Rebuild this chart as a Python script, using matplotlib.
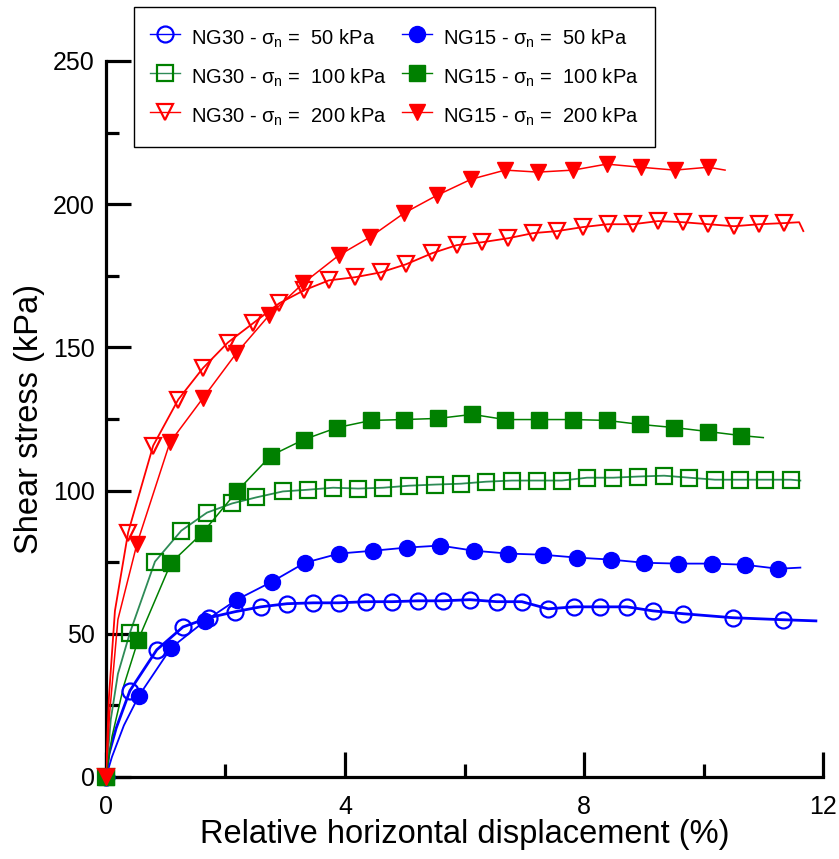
import numpy as np
import matplotlib
matplotlib.use("Agg")
import matplotlib.pyplot as plt
from matplotlib import font_manager

plt.rcParams["font.family"] = ["Liberation Sans", "DejaVu Sans"]

# fuente estrecha para la leyenda si existe
nombres = {f.name for f in font_manager.fontManager.ttflist}
if "Liberation Sans Narrow" in nombres:
    LEG_FONT = "Liberation Sans Narrow"
    LEG_SIZE = 17
else:
    LEG_FONT = "Liberation Sans"
    LEG_SIZE = 14.5
plt.rcParams["mathtext.fontset"] = "custom"
plt.rcParams["mathtext.rm"] = LEG_FONT
plt.rcParams["mathtext.it"] = LEG_FONT

# ---- datos (desplazamiento %, tension kPa) ----
# NG30 - 50 kPa (circulo abierto)
ng30_50_x = [0, 0.40, 0.85, 1.29, 1.72, 2.16, 2.59, 3.03, 3.47, 3.90, 4.35, 4.79, 5.22,
             5.64, 6.09, 6.54, 6.96, 7.40, 7.83, 8.27, 8.72, 9.15, 9.66, 10.49, 11.33]
ng30_50_y = [0, 30.1, 44.4, 52.4, 55.6, 57.7, 59.4, 60.5, 60.8, 60.8, 61.2, 61.2, 61.5,
             61.5, 61.9, 61.2, 61.2, 58.7, 59.4, 59.4, 59.4, 58.0, 57.0, 55.6, 54.9]
ng30_50_extra = ([0.05, 0.17, 11.88], [8, 17, 54.5])

# NG15 - 50 kPa (circulo lleno)
ng15_50_x = [0, 0.55, 1.09, 1.66, 2.19, 2.78, 3.33, 3.90, 4.47, 5.04, 5.59, 6.16, 6.73,
             7.31, 7.88, 8.45, 9.00, 9.57, 10.14, 10.69, 11.25]
ng15_50_y = [0, 28.3, 45.1, 54.5, 61.9, 68.2, 74.8, 78.0, 79.0, 80.1, 80.8, 79.0, 78.0,
             77.6, 76.6, 75.9, 74.8, 74.5, 74.5, 74.1, 72.7]
ng15_50_extra = ([0.1, 0.3, 11.62], [7, 18, 73.1])

# NG30 - 100 kPa (cuadrado abierto)
ng30_100_x = [0, 0.40, 0.82, 1.26, 1.69, 2.11, 2.51, 2.96, 3.38, 3.80, 4.22, 4.64, 5.07,
              5.51, 5.94, 6.36, 6.79, 7.21, 7.63, 8.05, 8.49, 8.90, 9.34, 9.76, 10.19,
              10.61, 11.03, 11.46]
ng30_100_y = [0, 50.3, 75.2, 86.0, 92.3, 95.5, 97.6, 99.7, 100.3, 101.0, 100.7, 101.0, 101.7,
              102.1, 102.4, 103.1, 103.5, 103.5, 103.5, 104.5, 104.5, 104.9, 105.2, 104.5, 103.8,
              103.8, 103.8, 103.8]
ng30_100_extra = ([0.08, 0.2, 11.62], [20, 36, 103.5])

# NG15 - 100 kPa (cuadrado lleno)
ng15_100_x = [0, 0.54, 1.09, 1.62, 2.19, 2.76, 3.31, 3.87, 4.44, 4.99, 5.56, 6.13, 6.68,
              7.25, 7.82, 8.38, 8.94, 9.51, 10.08, 10.63]
ng15_100_y = [0, 47.9, 74.8, 85.3, 99.7, 112.2, 117.8, 122.0, 124.5, 124.8, 125.2, 126.6, 124.8,
              124.8, 124.8, 124.5, 123.1, 122.0, 120.6, 119.2]
ng15_100_extra = ([0.1, 0.3, 11.0], [14, 32, 118.5])

# NG30 - 200 kPa (triangulo abierto)
ng30_200_x = [0, 0.37, 0.79, 1.21, 1.62, 2.04, 2.46, 2.90, 3.31, 3.73, 4.17, 4.60, 5.02,
              5.46, 5.87, 6.29, 6.73, 7.15, 7.55, 7.98, 8.40, 8.82, 9.24, 9.66, 10.08,
              10.51, 10.93, 11.35]
ng30_200_y = [0, 85.3, 115.7, 131.8, 142.7, 151.7, 158.4, 165.4, 169.9, 173.4, 174.5, 176.2, 179.0,
              182.9, 185.7, 186.7, 188.1, 189.9, 190.6, 192.0, 193.0, 193.0, 194.1, 193.7, 193.0,
              192.3, 193.0, 193.4]
ng30_200_extra = ([0.05, 0.15, 11.6, 11.67], [28, 58, 193.7, 190.6])

# NG15 - 200 kPa (triangulo lleno)
ng15_200_x = [0, 0.52, 1.07, 1.62, 2.18, 2.73, 3.30, 3.90, 4.42, 4.99, 5.54, 6.11, 6.68,
              7.23, 7.82, 8.38, 8.95, 9.52, 10.08]
ng15_200_y = [0, 81.5, 116.8, 132.2, 147.9, 161.2, 172.4, 182.2, 188.5, 196.9, 203.1, 208.7, 211.9,
              211.2, 211.9, 214.0, 212.9, 211.9, 212.9]
ng15_200_extra = ([0.06, 0.2, 10.36], [22, 55, 211.9])

labels = [r"NG30 - $\sigma_n$ =  50 kPa", r"NG30 - $\sigma_n$ =  100 kPa",
          r"NG30 - $\sigma_n$ =  200 kPa", r"NG15 - $\sigma_n$ =  50 kPa",
          r"NG15 - $\sigma_n$ =  100 kPa", r"NG15 - $\sigma_n$ =  200 kPa"]

# orden igual que la leyenda (columna 1 = NG30, columna 2 = NG15)
series = [
    (ng30_50_x, ng30_50_y, ng30_50_extra, "#0000ff", "#0000ff", "o", True, 2.0),
    (ng30_100_x, ng30_100_y, ng30_100_extra, "#2e8b57", "#008000", "s", True, 1.3),
    (ng30_200_x, ng30_200_y, ng30_200_extra, "#ff0000", "#ff0000", "v", True, 1.3),
    (ng15_50_x, ng15_50_y, ng15_50_extra, "#0000ff", "#0000ff", "o", False, 1.3),
    (ng15_100_x, ng15_100_y, ng15_100_extra, "#008000", "#008000", "s", False, 1.1),
    (ng15_200_x, ng15_200_y, ng15_200_extra, "#ff0000", "#ff0000", "v", False, 1.1),
]

fig = plt.figure(figsize=(8.39, 8.59), dpi=100)
ax = fig.add_axes([0.1263, 0.0955, 0.8547, 0.8335])

handles = []
for x, y, extra, lc, mc, mk, hollow, lw in series:
    cx = np.concatenate([x, extra[0]])
    cy = np.concatenate([y, extra[1]])
    order = np.argsort(cx)
    ax.plot(cx[order], cy[order], color=lc, lw=lw, zorder=3)
    ms = 11.5 if mk != "v" else 12
    if hollow:
        ax.plot(x, y, ls="none", marker=mk, ms=ms, mfc="none", mec=mc, mew=1.6,
                zorder=4, clip_on=False)
        h, = ax.plot([], [], color=lc, lw=1.0, marker=mk, ms=ms, mfc="none", mec=mc, mew=1.6)
    else:
        ax.plot(x, y, ls="none", marker=mk, ms=ms, mfc=mc, mec=mc, zorder=4, clip_on=False)
        h, = ax.plot([], [], color=lc, lw=1.0, marker=mk, ms=ms, mfc=mc, mec=mc)
    handles.append(h)

ax.set_xlim(0, 12)
ax.set_ylim(0, 250)
ax.set_xticks([0, 4, 8, 12])
ax.set_xticks([2, 6, 10], minor=True)
ax.set_yticks([0, 50, 100, 150, 200, 250])
ax.set_yticks([25, 75, 125, 175, 225], minor=True)

for s in ["top", "right"]:
    ax.spines[s].set_visible(False)
for s in ["left", "bottom"]:
    ax.spines[s].set_linewidth(2.3)

ax.tick_params(which="major", direction="in", length=18, width=2.3, labelsize=18, pad=8)
ax.tick_params(which="minor", direction="in", length=9.5, width=2.3)
ax.tick_params(axis="x", which="major", pad=13)

ax.set_xlabel("Relative horizontal displacement (%)", fontsize=23.5, labelpad=0)
ax.set_ylabel("Shear stress (kPa)", fontsize=23.5, labelpad=6)

leg = ax.legend(handles, labels, loc="upper left", bbox_to_anchor=(0.1597, 0.9919),
                bbox_transform=fig.transFigure, ncol=2,
                prop={"family": LEG_FONT, "size": LEG_SIZE},
                frameon=True, fancybox=False, edgecolor="black", framealpha=1,
                borderaxespad=0, handlelength=1.5, handleheight=1.9,
                handletextpad=0.55, columnspacing=0.75, labelspacing=0.46,
                borderpad=0.8)
leg.get_frame().set_linewidth(1.0)

fig.savefig("out.png", dpi=100)
